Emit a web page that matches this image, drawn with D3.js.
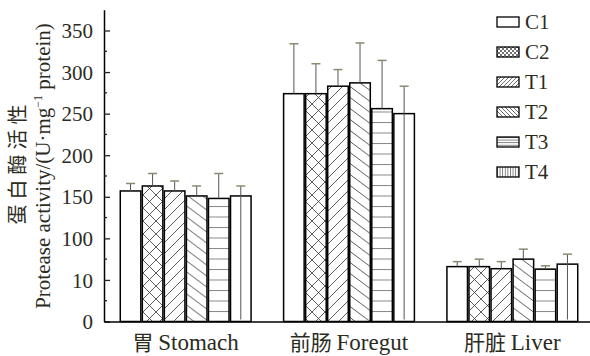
<!DOCTYPE html>
<html><head><meta charset="utf-8">
<script src="https://cdn.jsdelivr.net/npm/d3@7"></script>
<style>body{margin:0;background:#fff}svg{display:block}</style>
</head><body>
<svg id="chart" width="590" height="356"></svg>
<script>
// ---- data ----
const categories = ["胃 Stomach", "前肠 Foregut", "肝脏 Liver"];
const seriesNames = ["C1", "C2", "T1", "T2", "T3", "T4"];
const valC1 = [157, 274, 66];
const valC2 = [163, 274, 66];
const valT1 = [157, 283, 63.5];
const valT2 = [151, 287, 75];
const valT3 = [148, 256, 63];
const valT4 = [151, 250, 69];
const errC1 = [9, 60, 6];
const errC2 = [15, 36, 9];
const errT1 = [12, 20, 8.5];
const errT2 = [12, 48, 12];
const errT3 = [30, 58, 4];
const errT4 = [12, 33, 12];
const tickValues = [0, 50, 100, 150, 200, 250, 300, 350];
const tickLabels = ["0", "10", "100", "150", "200", "250", "300", "350"];
const yTitleCN = "蛋白酶活性";
const yTitleEN = ["Protease activity/(U·mg", "−1", " protein)"];

const values = [valC1, valC2, valT1, valT2, valT3, valT4];
const errors = [errC1, errC2, errT1, errT2, errT3, errT4];

const svg = d3.select("#chart");
const textColor = "#2b2b1e";
const serif = "Liberation Serif";
const cjk = "Noto Sans CJK SC";

const y = d3.scaleLinear().domain([0, 375]).range([321.5, 9.7]);
const x0 = d3.scaleBand().domain(categories).range([104, 594]).paddingInner(0.19).paddingOuter(0.095);
const x1 = d3.scaleBand().domain(seriesNames).range([0, x0.bandwidth()]);

// ---- patterns ----
const defs = svg.append("defs");
function pat(id, w, h, d, color, sw, extra) {
  const p = defs.append("pattern").attr("id", id).attr("patternUnits", "userSpaceOnUse")
    .attr("width", w).attr("height", h);
  if (extra) Object.entries(extra).forEach(([k, v]) => p.attr(k, v));
  p.append("rect").attr("width", w).attr("height", h).attr("fill", "#fff");
  p.append("path").attr("d", d).attr("stroke", color).attr("stroke-width", sw).attr("fill", "none");
}
// bar patterns
pat("pC2", 13, 13, "M0,0L13,13M13,0L0,13M-1,12L1,14M12,-1L14,1", "#333", 0.8);
pat("pT1", 11, 11, "M0,11L11,0M-2,2L2,-2M9,13L13,9", "#333", 0.8);
pat("pT2", 14.67, 11, "M0,0L14.67,11M-2,9.5L2,12.5M12.67,-1.5L16.67,1.5", "#333", 0.8);
pat("pT3", 20, 10.5, "M0,0.5H20", "#888", 1, {y: y(0)});
// legend patterns
pat("lC2", 4, 4, "M0,0L4,4M4,0L0,4", "#333", 0.7);
pat("lT1", 4, 4, "M0,4L4,0M-1,1L1,-1M3,5L5,3", "#333", 0.7);
pat("lT2", 4, 4, "M0,0L4,4M-1,3L1,5M3,-1L5,1", "#333", 0.7);
pat("lT3", 20, 2.6, "M0,0.5H20", "#555", 0.8);
pat("lT4", 2.6, 20, "M0.5,0V20", "#555", 0.8);

const barFill = {C1: "#fff", C2: "url(#pC2)", T1: "url(#pT1)", T2: "url(#pT2)", T3: "url(#pT3)", T4: "#fff"};
const legFill = {C1: "#fff", C2: "url(#lC2)", T1: "url(#lT1)", T2: "url(#lT2)", T3: "url(#lT3)", T4: "url(#lT4)"};

// ---- bars ----
const rows = [];
categories.forEach((c, i) => seriesNames.forEach((s, j) => rows.push({c, s, v: values[j][i], e: errors[j][i]})));

const g = svg.append("g");
const bx = d => x0(d.c) + x1(d.s);
g.selectAll("rect.bar").data(rows).join("rect").attr("class", "bar")
  .attr("x", d => bx(d) + 0.75).attr("width", x1.bandwidth() - 1.5)
  .attr("y", d => y(d.v)).attr("height", d => y(0) - y(d.v))
  .attr("fill", d => barFill[d.s]).attr("stroke", "#000").attr("stroke-width", 1.5);

// T4 vertical hatch (single centre line)
g.selectAll("line.t4").data(rows.filter(d => d.s === "T4")).join("line").attr("class", "t4")
  .attr("x1", d => bx(d) + x1.bandwidth() / 2).attr("x2", d => bx(d) + x1.bandwidth() / 2)
  .attr("y1", d => y(d.v)).attr("y2", y(0) - 2)
  .attr("stroke", "#555").attr("stroke-width", 1);

// error bars
g.selectAll("line.err").data(rows).join("line").attr("class", "err")
  .attr("x1", d => bx(d) + x1.bandwidth() / 2).attr("x2", d => bx(d) + x1.bandwidth() / 2)
  .attr("y1", d => y(d.v)).attr("y2", d => y(d.v + d.e))
  .attr("stroke", "#555").attr("stroke-width", 1);
g.selectAll("line.cap").data(rows).join("line").attr("class", "cap")
  .attr("x1", d => bx(d) + x1.bandwidth() / 2 - 4.5).attr("x2", d => bx(d) + x1.bandwidth() / 2 + 4.5)
  .attr("y1", d => y(d.v + d.e)).attr("y2", d => y(d.v + d.e))
  .attr("stroke", "#8a8a72").attr("stroke-width", 1.5);

// ---- axes ----
const yAxis = d3.axisLeft(y).tickValues(tickValues).tickFormat((d, i) => tickLabels[i]).tickSizeInner(-6).tickSizeOuter(0).tickPadding(11);
const ya = svg.append("g").attr("transform", "translate(104,0)").call(yAxis)
  .attr("font-family", serif).attr("font-size", 21);
ya.select(".domain").attr("stroke", "#000").attr("stroke-width", 1.5);
ya.selectAll(".tick line").attr("stroke", "#222").attr("stroke-width", 1.3);
ya.selectAll(".tick text").attr("fill", textColor).attr("dy", "0.34em");
// minor ticks
const minor = d3.range(25, 375, 50);
ya.selectAll("line.minor").data(minor).join("line").attr("class", "minor")
  .attr("x1", 0).attr("x2", 3).attr("y1", d => y(d)).attr("y2", d => y(d))
  .attr("stroke", "#222").attr("stroke-width", 1.3);

const xAxis = d3.axisBottom(x0).tickSize(0).tickPadding(12);
const xa = svg.append("g").attr("transform", `translate(0,${y(0)})`).call(xAxis)
  .attr("font-family", serif).attr("font-size", 23);
xa.select(".domain").attr("stroke", "#000").attr("stroke-width", 1.5);
xa.selectAll(".tick text").attr("fill", textColor)
  .each(function(d) {
    const t = d3.select(this); const parts = d.split(" ");
    t.text(null);
    t.append("tspan").attr("font-family", cjk).attr("font-size", 21).text(parts[0] + " ");
    t.append("tspan").attr("font-family", serif).text(parts[1]);
  });

// ---- y title ----
svg.append("text").attr("transform", "translate(25,162) rotate(-90)")
  .attr("text-anchor", "middle").attr("font-family", cjk).attr("font-size", 20)
  .attr("letter-spacing", 5).attr("fill", textColor)
  .text(yTitleCN);
const en = svg.append("text").attr("transform", "translate(50,166) rotate(-90)")
  .attr("text-anchor", "middle").attr("font-family", serif).attr("font-size", 21).attr("fill", textColor);
en.append("tspan").text(yTitleEN[0]);
en.append("tspan").attr("font-size", 12).attr("dy", -8).text(yTitleEN[1]);
en.append("tspan").attr("dy", 8).text(yTitleEN[2]);

// ---- legend ----
const leg = svg.append("g").attr("font-family", serif).selectAll("g").data(seriesNames).join("g")
  .attr("transform", (d, i) => `translate(497,${17 + i * 30})`);
leg.append("rect").attr("width", 22).attr("height", 10).attr("fill", d => legFill[d])
  .attr("stroke", "#000").attr("stroke-width", 1.3);
leg.append("text").attr("x", 28).attr("y", 12).attr("font-size", 21)
  .attr("fill", textColor).text(d => d);
</script>
</body></html>
